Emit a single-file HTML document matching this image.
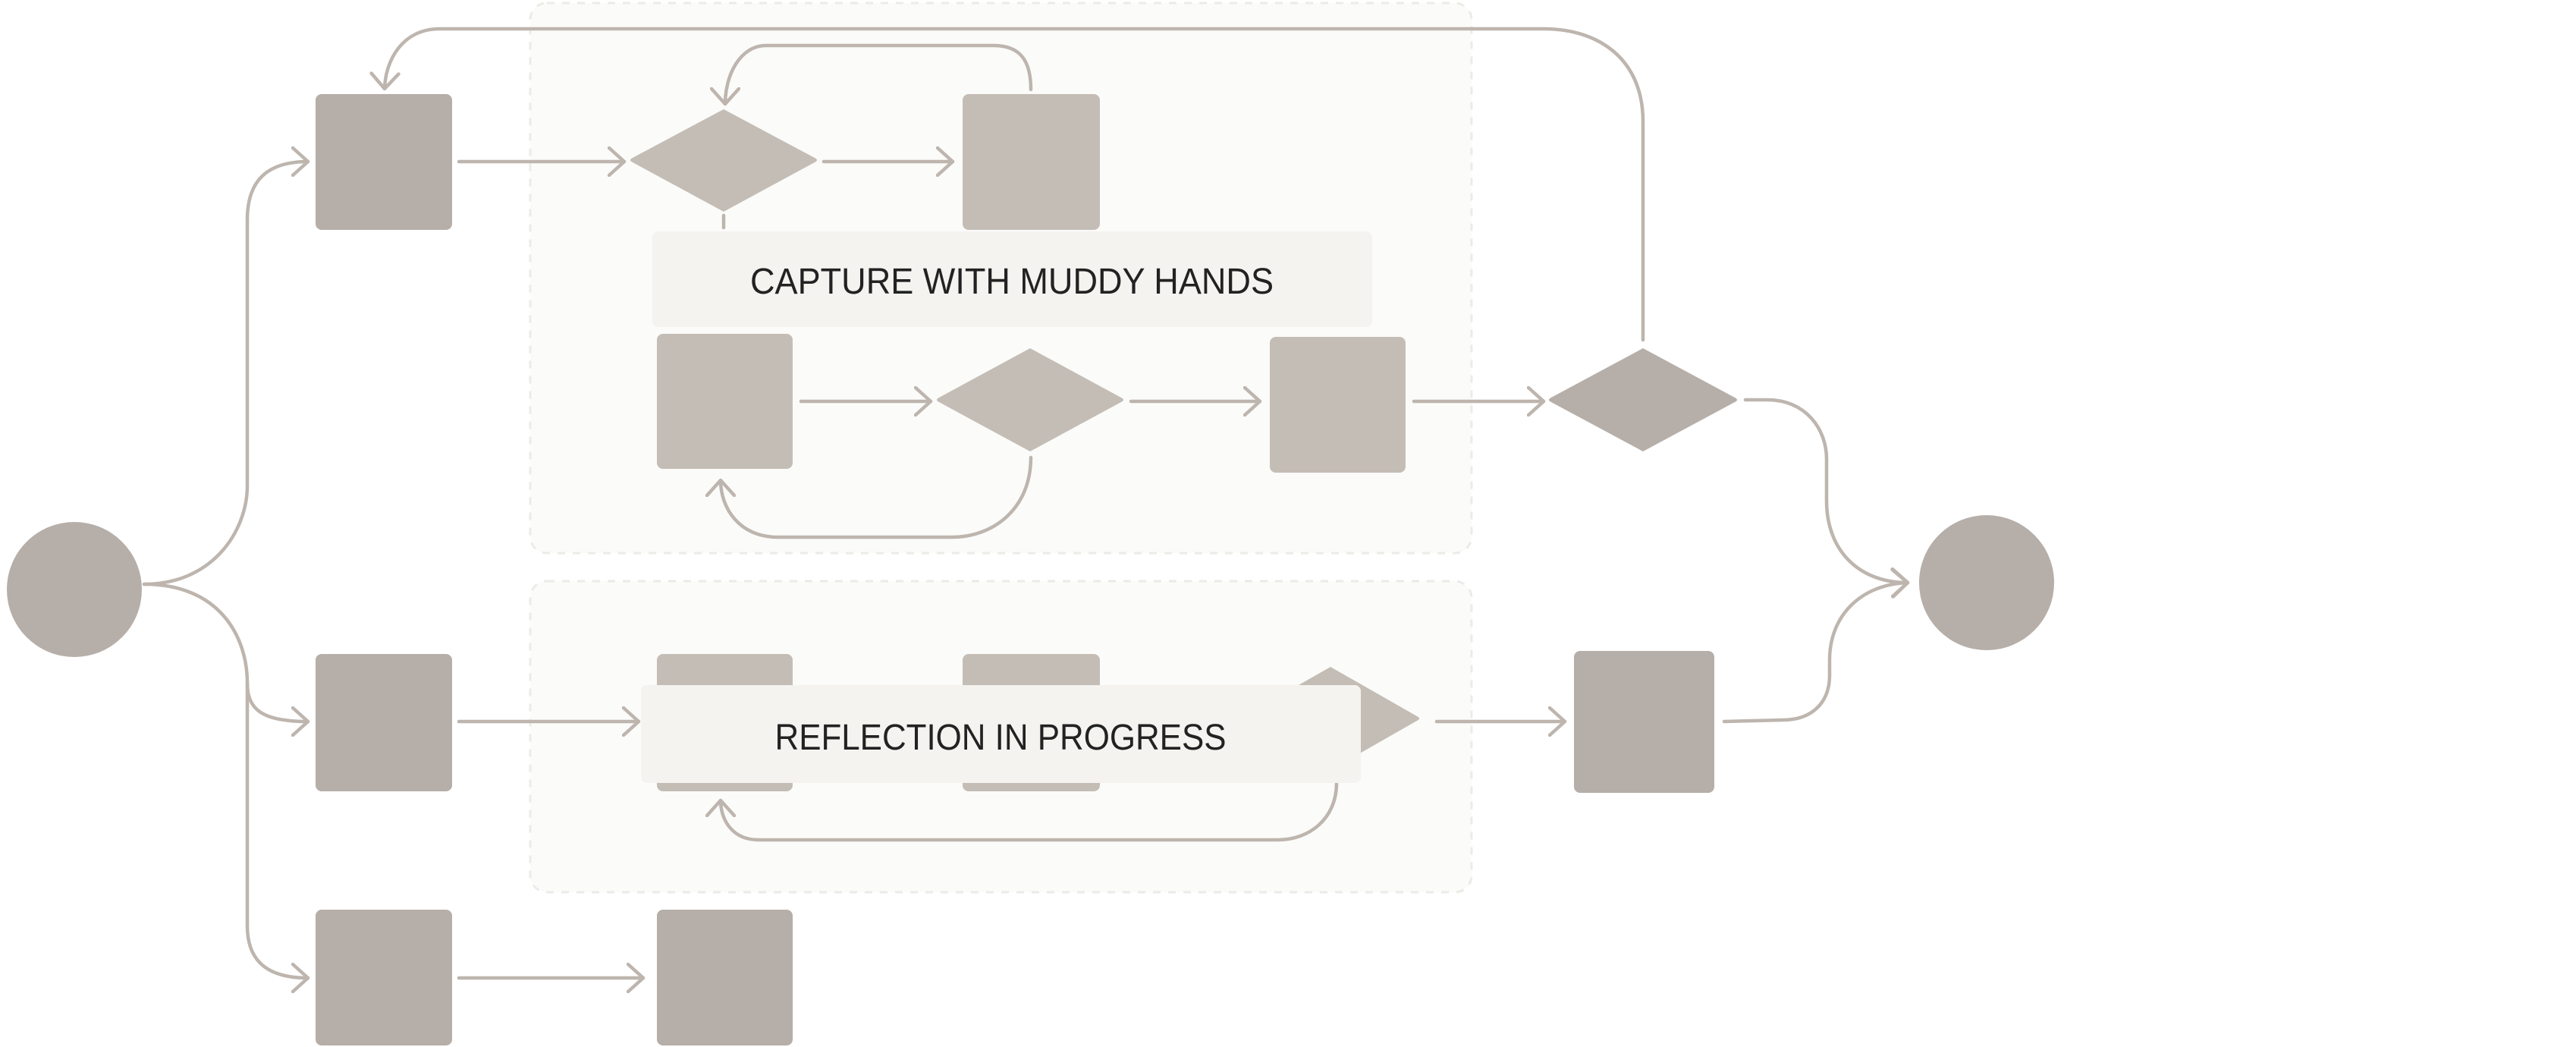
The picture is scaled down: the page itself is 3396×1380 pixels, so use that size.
<!DOCTYPE html>
<html><head><meta charset="utf-8"><style>
html,body{margin:0;padding:0;background:#fff;}
svg{display:block;}
text{font-family:"Liberation Sans",sans-serif;}
</style></head><body>
<svg width="3396" height="1380" viewBox="0 0 3396 1380" xmlns="http://www.w3.org/2000/svg">
<defs>
<marker id="a" viewBox="0 0 24 40" refX="22" refY="20" markerWidth="24" markerHeight="40" markerUnits="userSpaceOnUse" orient="auto">
<path d="M2,2 L22,20 L2,38" fill="none" stroke="#bdb5ae" stroke-width="4.5" stroke-linecap="round" stroke-linejoin="round"/>
</marker>
</defs>
<!-- groups -->
<rect x="699" y="4" width="1241" height="725" rx="22" fill="#fbfbf9" stroke="#ebebe8" stroke-width="3" stroke-dasharray="10 10"/>
<rect x="699" y="766" width="1241" height="410" rx="22" fill="#fbfbf9" stroke="#ebebe8" stroke-width="3" stroke-dasharray="10 10"/>

<g fill="none" stroke="#bdb5ae" stroke-width="4.5" stroke-linecap="round">
<!-- start to box1 -->
<path d="M190,770 C280,770 326,700 326,640 L326,290 C326,240 350,213 406,213" marker-end="url(#a)"/>
<!-- start to row2/row3 -->
<path d="M190,770 C290,770 326,840 326,900 C326,935 345,951 406,951" marker-end="url(#a)"/>
<path d="M326,900 L326,1220 C326,1260 345,1289 406,1289" marker-end="url(#a)"/>
<!-- top row -->
<path d="M605,213 L823,213" marker-end="url(#a)"/>
<path d="M1086,213 L1256,213" marker-end="url(#a)"/>
<path d="M1359,118 C1359,80 1345,60 1310,60 L1010,60 C975,60 956,100 956,137" marker-end="url(#a)"/>
<path d="M954,284 L954,300"/>
<!-- top feedback -->
<path d="M2166,448 L2166,160 C2166,80 2110,38 2035,38 L580,38 C530,38 508,80 507,117" marker-end="url(#a)"/>
<!-- middle row -->
<path d="M1056,529 L1227,529" marker-end="url(#a)"/>
<path d="M1491,529 L1661,529" marker-end="url(#a)"/>
<path d="M1359,603 C1359,670 1310,708 1255,708 L1025,708 C975,708 950,670 950,633" marker-end="url(#a)"/>
<path d="M1864,529 L2035,529" marker-end="url(#a)"/>
<path d="M2301,527 L2330,527 C2380,527 2408,565 2408,605 L2408,660 C2408,725 2450,768 2515,768" marker-end="url(#a)"/>
<!-- row2 -->
<path d="M605,951 L842,951" marker-end="url(#a)"/>
<path d="M1894,951 L2063,951" marker-end="url(#a)"/>
<path d="M2273,951 L2350,949 C2390,949 2412,925 2412,890 L2412,870 C2412,810 2455,770 2515,768" marker-end="url(#a)"/>
<path d="M1762,1032 C1762,1080 1725,1107 1685,1107 L1000,1107 C965,1107 950,1080 950,1055" marker-end="url(#a)"/>
<!-- row3 -->
<path d="M605,1289 L848,1289" marker-end="url(#a)"/>
</g>

<!-- nodes -->
<circle cx="98" cy="777" r="89" fill="#b6aea8"/>
<circle cx="2619" cy="768" r="89" fill="#b6aea8"/>
<rect x="416" y="124" width="180" height="179" rx="8" fill="#b6aea8"/>
<rect x="416" y="862" width="180" height="181" rx="8" fill="#b6aea8"/>
<rect x="416" y="1199" width="180" height="179" rx="8" fill="#b6aea8"/>
<rect x="866" y="1199" width="179" height="179" rx="8" fill="#b6aea8"/>
<path d="M954,144 L1074,208 Q1080,211 1074,214 L954,279 L834,214 Q828,211 834,208 Z" fill="#c4bdb6"/>
<rect x="1269" y="124" width="181" height="179" rx="8" fill="#c4bdb6"/>
<rect x="866" y="440" width="179" height="178" rx="8" fill="#c4bdb6"/>
<path d="M1358,459 L1478,524 Q1484,527 1478,530 L1358,595 L1238,530 Q1232,527 1238,524 Z" fill="#c4bdb6"/>
<rect x="1674" y="444" width="179" height="179" rx="8" fill="#c4bdb6"/>
<path d="M2166,459 L2287,524 Q2293,527 2287,530 L2166,595 L2045,530 Q2039,527 2045,524 Z" fill="#b6aea8"/>
<rect x="866" y="862" width="179" height="181" rx="8" fill="#c4bdb6"/>
<rect x="1269" y="862" width="181" height="181" rx="8" fill="#c4bdb6"/>
<path d="M1754,879 L1868,944 Q1874,947 1868,950 L1754,1015 L1640,950 Q1634,947 1640,944 Z" fill="#c4bdb6"/>
<rect x="2075" y="858" width="185" height="187" rx="8" fill="#b6aea8"/>

<!-- labels -->
<rect x="860" y="305" width="949" height="126" rx="8" fill="#f4f3f0"/>
<text x="1334" y="387" text-anchor="middle" font-size="48" fill="#222" textLength="690" lengthAdjust="spacingAndGlyphs">CAPTURE WITH MUDDY HANDS</text>
<rect x="845" y="903" width="949" height="129" rx="8" fill="#f4f3f0"/>
<text x="1319" y="988" text-anchor="middle" font-size="48" fill="#222" textLength="595" lengthAdjust="spacingAndGlyphs">REFLECTION IN PROGRESS</text>
</svg>
</body></html>
